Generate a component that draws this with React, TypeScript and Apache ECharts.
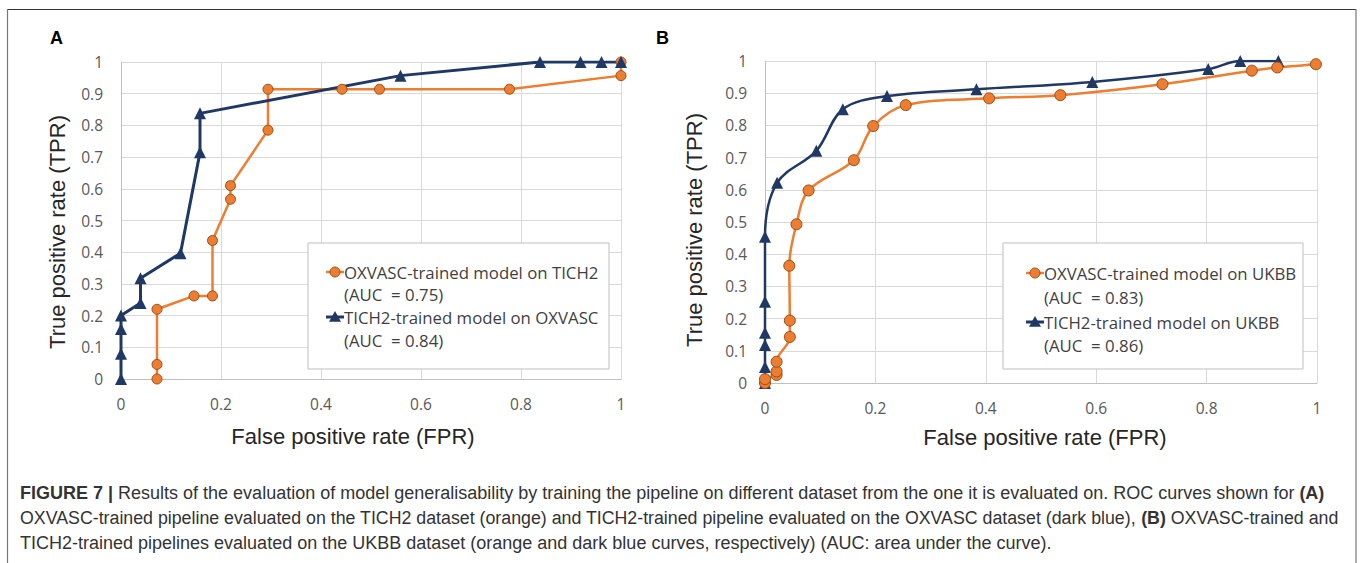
import React, { useEffect, useRef } from "react";
import * as echarts from "echarts";

// Panel A: OXVASC-trained model on TICH2 (orange) / TICH2-trained model on OXVASC (blue)
const A_ORANGE_FPR = [0.072, 0.072, 0.072, 0.146, 0.183, 0.183, 0.219, 0.219, 0.294, 0.294, 0.442, 0.517, 0.777, 1.0, 1.0];
const A_ORANGE_TPR = [0.0, 0.046, 0.22, 0.262, 0.262, 0.437, 0.567, 0.61, 0.785, 0.914, 0.914, 0.914, 0.914, 0.957, 1.0];
const A_BLUE_FPR = [0, 0, 0, 0, 0.039, 0.039, 0.119, 0.158, 0.158, 0.559, 0.838, 0.919, 0.961, 1.0];
const A_BLUE_TPR = [0, 0.08, 0.158, 0.2, 0.24, 0.318, 0.397, 0.715, 0.838, 0.957, 1.0, 1.0, 1.0, 1.0];

// Panel B: both models on UKBB
const B_ORANGE_FPR = [0, 0, 0.021, 0.021, 0.021, 0.045, 0.045, 0.044, 0.057, 0.079, 0.161, 0.196, 0.255, 0.406, 0.535, 0.72, 0.882, 0.928, 0.998];
const B_ORANGE_TPR = [0.0, 0.012, 0.025, 0.036, 0.066, 0.143, 0.194, 0.364, 0.493, 0.598, 0.692, 0.798, 0.863, 0.884, 0.894, 0.928, 0.97, 0.98, 0.99];
const B_BLUE_FPR = [0, 0, 0, 0, 0, 0, 0.022, 0.093, 0.141, 0.221, 0.383, 0.593, 0.803, 0.861, 0.93];
const B_BLUE_TPR = [0, 0.05, 0.118, 0.156, 0.252, 0.454, 0.622, 0.721, 0.85, 0.891, 0.912, 0.935, 0.975, 1.0, 1.0];

const X_TICKS = [0, 0.2, 0.4, 0.6, 0.8, 1];
const Y_TICKS = [0, 0.1, 0.2, 0.3, 0.4, 0.5, 0.6, 0.7, 0.8, 0.9, 1];

const LEGEND_A = [
  ["OXVASC-trained model on TICH2", "(AUC  = 0.75)"],
  ["TICH2-trained model on OXVASC", "(AUC  = 0.84)"],
];
const LEGEND_B = [
  ["OXVASC-trained model on UKBB", "(AUC  = 0.83)"],
  ["TICH2-trained model on UKBB", "(AUC  = 0.86)"],
];

const CAPTION_1_BOLD = "FIGURE 7 |";
const CAPTION_1 = " Results of the evaluation of model generalisability by training the pipeline on different dataset from the one it is evaluated on. ROC curves shown for ";
const CAPTION_1_END = "(A)";
const CAPTION_2A = "OXVASC-trained pipeline evaluated on the TICH2 dataset (orange) and TICH2-trained pipeline evaluated on the OXVASC dataset (dark blue), ";
const CAPTION_2_BOLD = "(B)";
const CAPTION_2B = " OXVASC-trained and";
const CAPTION_3 = "TICH2-trained pipelines evaluated on the UKBB dataset (orange and dark blue curves, respectively) (AUC: area under the curve).";

const ORANGE = "#ED7D31";
const ORANGE_BORDER = "#9c4d17";
const BLUE = "#1F3864";
const TICK_COLOR = "#595959";
const GRID_COLOR = "#d9d9d9";

const pairs = (xs: number[], ys: number[]) => xs.map((x, i) => [x, ys[i]]);

function tri(cx: number, cy: number, s = 6) {
  return [
    [cx, cy - s],
    [cx + s, cy + s * 0.8],
    [cx - s, cy + s * 0.8],
  ];
}

function legend(x: number, y: number, w: number, h: number, iconX: number, textX: number, rows: number[], items: string[][]) {
  const els: any[] = [
    { type: "rect", shape: { x, y, width: w, height: h }, style: { fill: "#fff", stroke: "#bfbfbf", lineWidth: 1 }, z: 50 },
  ];
  const font = { fontFamily: "Open Sans", fontSize: 16.8, fill: "#3f3f3f", verticalAlign: "middle", align: "left" };
  els.push({ type: "line", shape: { x1: iconX, y1: rows[0], x2: textX, y2: rows[0] }, style: { stroke: ORANGE, lineWidth: 2.5 }, z: 51 });
  els.push({ type: "circle", shape: { cx: (iconX + textX) / 2, cy: rows[0], r: 5 }, style: { fill: ORANGE, stroke: ORANGE_BORDER, lineWidth: 1 }, z: 52 });
  els.push({ type: "text", x: textX, y: rows[0], style: { ...font, text: items[0][0] }, z: 52 });
  els.push({ type: "text", x: textX, y: rows[1], style: { ...font, text: items[0][1] }, z: 52 });
  els.push({ type: "line", shape: { x1: iconX, y1: rows[2], x2: textX, y2: rows[2] }, style: { stroke: BLUE, lineWidth: 3 }, z: 51 });
  els.push({ type: "polygon", shape: { points: tri((iconX + textX) / 2, rows[2]) }, style: { fill: BLUE }, z: 52 });
  els.push({ type: "text", x: textX, y: rows[2], style: { ...font, text: items[1][0] }, z: 52 });
  els.push({ type: "text", x: textX, y: rows[3], style: { ...font, text: items[1][1] }, z: 52 });
  return els;
}

export default function App() {
  const ref = useRef<HTMLDivElement>(null);
  useEffect(() => {
    if (!ref.current) return;
    const chart = echarts.init(ref.current, null, { renderer: "svg" });

    // fit caption lines to the text block width (justified look)
    const canvas = document.createElement("canvas");
    const ctx = canvas.getContext("2d")!;
    const measure = (bold: string[], normal: string[]) => {
      ctx.font = 'bold 16px "Liberation Sans"';
      let w = 0;
      bold.forEach((t) => (w += ctx.measureText(t).width));
      ctx.font = '16px "Liberation Sans"';
      normal.forEach((t) => (w += ctx.measureText(t).width));
      return w;
    };
    const TARGET = 1320;
    const size1 = Math.min(18, (16 * TARGET) / measure([CAPTION_1_BOLD, CAPTION_1_END], [CAPTION_1]));
    const size2 = Math.min(18, (16 * TARGET) / measure([CAPTION_2_BOLD], [CAPTION_2A, CAPTION_2B]));
    const size3 = size1;

    const fmt = (v: number) => String(Math.round(v * 10) / 10);
    const xAxisBase = (gi: number) => ({
      type: "value",
      gridIndex: gi,
      min: X_TICKS[0],
      max: X_TICKS[X_TICKS.length - 1],
      interval: 0.2,
      axisLine: { show: true, lineStyle: { color: "#bfbfbf", width: 1 } },
      axisTick: { show: false },
      axisLabel: { color: TICK_COLOR, fontSize: 15.5, fontFamily: "Open Sans", margin: 17, formatter: fmt },
      splitLine: { show: true, lineStyle: { color: GRID_COLOR, width: 1 } },
    });
    const yAxisBase = (gi: number) => ({
      type: "value",
      gridIndex: gi,
      min: Y_TICKS[0],
      max: Y_TICKS[Y_TICKS.length - 1],
      interval: 0.1,
      axisLine: { show: true, lineStyle: { color: "#bfbfbf", width: 1 } },
      axisTick: { show: false },
      axisLabel: { color: TICK_COLOR, fontSize: 15.5, fontFamily: "Open Sans", margin: 18, formatter: fmt },
      splitLine: { show: true, lineStyle: { color: GRID_COLOR, width: 1 } },
    });

    const capStyle = (s: number) => ({ fontFamily: "Liberation Sans", fontSize: s, fill: "#333", verticalAlign: "middle", align: "left" });
    const rich = (s: number) => ({ b: { fontWeight: "bold", fontFamily: "Liberation Sans", fontSize: s, color: "#111" } });

    chart.setOption({
      animation: false,
      backgroundColor: "#fff",
      grid: [
        { left: 121, top: 62, width: 500, height: 317 },
        { left: 765, top: 61, width: 552, height: 322 },
      ],
      xAxis: [xAxisBase(0), xAxisBase(1)],
      yAxis: [yAxisBase(0), yAxisBase(1)],
      series: [
        {
          type: "line", xAxisIndex: 0, yAxisIndex: 0, data: pairs(A_ORANGE_FPR, A_ORANGE_TPR),
          lineStyle: { color: ORANGE, width: 2.5 }, symbol: "circle", symbolSize: 10,
          itemStyle: { color: ORANGE, borderColor: ORANGE_BORDER, borderWidth: 1 },
        },
        {
          type: "line", xAxisIndex: 0, yAxisIndex: 0, data: pairs(A_BLUE_FPR, A_BLUE_TPR),
          lineStyle: { color: BLUE, width: 3 }, symbol: "triangle", symbolSize: 12,
          itemStyle: { color: BLUE },
        },
        {
          type: "line", xAxisIndex: 1, yAxisIndex: 1, data: pairs(B_BLUE_FPR, B_BLUE_TPR), smooth: 0.35,
          lineStyle: { color: BLUE, width: 2.5 }, symbol: "triangle", symbolSize: 12,
          itemStyle: { color: BLUE },
        },
        {
          type: "line", xAxisIndex: 1, yAxisIndex: 1, data: pairs(B_ORANGE_FPR, B_ORANGE_TPR), smooth: 0.35,
          lineStyle: { color: ORANGE, width: 2.5 }, symbol: "circle", symbolSize: 11,
          itemStyle: { color: ORANGE, borderColor: ORANGE_BORDER, borderWidth: 1 },
        },
      ],
      graphic: [
        { type: "line", shape: { x1: 7, y1: 9.5, x2: 1356, y2: 9.5 }, style: { stroke: "#333", lineWidth: 1.2 } },
        { type: "line", shape: { x1: 7.5, y1: 9, x2: 7.5, y2: 563 }, style: { stroke: "#777", lineWidth: 1.2 } },
        { type: "line", shape: { x1: 1356, y1: 9, x2: 1356, y2: 563 }, style: { stroke: "#777", lineWidth: 1.2 } },
        { type: "text", x: 50, y: 38, style: { text: "A", fontFamily: "Liberation Sans", fontWeight: "bold", fontSize: 18, fill: "#000", verticalAlign: "middle" } },
        { type: "text", x: 656, y: 38, style: { text: "B", fontFamily: "Liberation Sans", fontWeight: "bold", fontSize: 18, fill: "#000", verticalAlign: "middle" } },
        { type: "text", x: 353, y: 436, style: { text: "False positive rate (FPR)", fontFamily: "Liberation Sans", fontSize: 22, fill: "#262626", align: "center", verticalAlign: "middle" } },
        { type: "text", x: 1045, y: 437, style: { text: "False positive rate (FPR)", fontFamily: "Liberation Sans", fontSize: 22, fill: "#262626", align: "center", verticalAlign: "middle" } },
        { type: "text", x: 57, y: 232, rotation: Math.PI / 2, style: { text: "True positive rate (TPR)", fontFamily: "Liberation Sans", fontSize: 22, fill: "#262626", align: "center", verticalAlign: "middle" } },
        { type: "text", x: 694, y: 230, rotation: Math.PI / 2, style: { text: "True positive rate (TPR)", fontFamily: "Liberation Sans", fontSize: 22, fill: "#262626", align: "center", verticalAlign: "middle" } },
        ...legend(308, 243, 301, 126, 326, 344, [272, 294, 317, 340], LEGEND_A),
        ...legend(1003, 243, 300, 126, 1026, 1044, [273, 297, 322, 345], LEGEND_B),
        { type: "text", x: 20, y: 493, style: { ...capStyle(size1), text: `{b|${CAPTION_1_BOLD}}${CAPTION_1}{b|${CAPTION_1_END}}`, rich: rich(size1) } },
        { type: "text", x: 20, y: 518, style: { ...capStyle(size2), text: `${CAPTION_2A}{b|${CAPTION_2_BOLD}}${CAPTION_2B}`, rich: rich(size2) } },
        { type: "text", x: 20, y: 543, style: { ...capStyle(size3), text: CAPTION_3 } },
      ],
    });
    return () => chart.dispose();
  }, []);
  return <div ref={ref} style={{ position: "absolute", left: 0, top: 0, width: 1360, height: 563 }} />;
}
